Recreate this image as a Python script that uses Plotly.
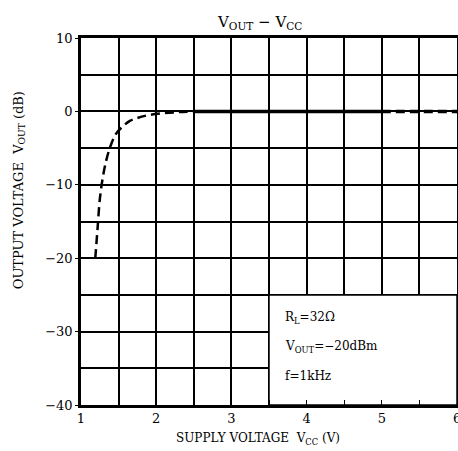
import plotly.graph_objects as go

# Rising (dashed) section
vcc_rise = [1.19, 1.22, 1.25, 1.29, 1.34, 1.40, 1.47, 1.55, 1.65, 1.75, 1.9, 2.1, 2.3, 2.5]
vout_rise = [-20, -16, -12, -9, -6.5, -4.5, -3.0, -2.1, -1.3, -0.9, -0.5, -0.25, -0.1, 0]
# Flat (solid) section
vcc_flat = [2.5, 5.0]
vout_flat = [0, 0]
# Flat (dashed) extension
vcc_ext = [5.0, 6.0]
vout_ext = [0, 0]

x_ticks = [1, 2, 3, 4, 5]
last_x_tick = 6
y_ticks = [10, 0, -10, -20, -30, -40]
y_tick_labels = ["10", "0", "\u221210", "\u221220", "\u221230", "\u221240"]
note_lines = ["R<sub>L</sub>=32\u03a9", "V<sub>OUT</sub>=\u221220dBm", "f=1kHz"]
title_text = "V<sub>OUT</sub> \u2212 V<sub>CC</sub>"
x_title = "SUPPLY VOLTAGE  V<sub>CC</sub> (V)"
y_title = "OUTPUT VOLTAGE  V<sub>OUT</sub> (dB)"

FONT = "DejaVu Serif"
fig = go.Figure()
fig.add_trace(go.Scatter(x=vcc_rise, y=vout_rise, mode="lines", line=dict(color="black", width=2.5, dash="9px,5px", shape="spline"), hoverinfo="skip"))
fig.add_trace(go.Scatter(x=vcc_flat, y=vout_flat, mode="lines", line=dict(color="black", width=3.5), hoverinfo="skip"))
fig.add_trace(go.Scatter(x=vcc_ext, y=vout_ext, mode="lines", line=dict(color="black", width=3.5, dash="9px,5px"), hoverinfo="skip"))

# White note box covering grid
fig.add_shape(type="rect", xref="x", yref="y", x0=3.5, x1=6, y0=-40, y1=-25,
              fillcolor="white", line=dict(color="black", width=1.5), layer="between")
for i, t in enumerate(note_lines):
    fig.add_annotation(x=3.68, y=-28.2 - i * 3.9, xref="x", yref="y", text=t, showarrow=False,
                       xanchor="left", yanchor="middle", font=dict(family=FONT, size=12, color="black"))

# partially visible last x tick label at the right edge
fig.add_annotation(x=last_x_tick, y=0, xref="x", yref="paper", yshift=-4, text=str(last_x_tick), showarrow=False,
                   xanchor="center", yanchor="top", font=dict(family=FONT, size=13, color="black"))

fig.add_annotation(x=0.475, y=1.01, xref="paper", yref="paper", text=title_text, showarrow=False,
                   xanchor="center", yanchor="bottom", font=dict(family=FONT, size=15, color="black"))
fig.add_annotation(x=0.47, y=-0.065, xref="paper", yref="paper", text=x_title, showarrow=False,
                   xanchor="center", yanchor="top", font=dict(family=FONT, size=12, color="black"))
fig.add_annotation(x=-0.165, y=0.585, xref="paper", yref="paper", text=y_title, showarrow=False, textangle=-90,
                   xanchor="center", yanchor="middle", font=dict(family=FONT, size=13, color="black"))

fig.update_layout(
    width=458, height=451,
    margin=dict(l=81, r=1, t=38, b=46),
    paper_bgcolor="white", plot_bgcolor="white",
    showlegend=False,
    font=dict(family=FONT, size=13, color="black"),
)
fig.update_xaxes(range=[1, 6], tickvals=x_ticks, ticktext=[str(v) for v in x_ticks], automargin=False,
                 showgrid=True, gridcolor="black", gridwidth=1.5,
                 minor=dict(dtick=0.5, showgrid=True, gridcolor="black", gridwidth=1.5, ticks="inside", ticklen=5, tickcolor="black"),
                 ticks="inside", ticklen=5, tickcolor="black",
                 showline=True, linecolor="black", linewidth=2.5, mirror=True, zeroline=False,
                 tickfont=dict(family=FONT, size=13))
fig.update_yaxes(range=[-40, 10], tickvals=y_ticks, ticktext=y_tick_labels, automargin=False,
                 showgrid=True, gridcolor="black", gridwidth=1.5,
                 minor=dict(dtick=5, showgrid=True, gridcolor="black", gridwidth=1.5),
                 ticks="outside", ticklen=3, tickcolor="black",
                 showline=True, linecolor="black", linewidth=2.5, mirror=True, zeroline=False,
                 tickfont=dict(family=FONT, size=13))
fig.write_html("out.html", config={"displayModeBar": False},
               post_script="document.body.style.margin='0';document.body.style.overflow='hidden';")
